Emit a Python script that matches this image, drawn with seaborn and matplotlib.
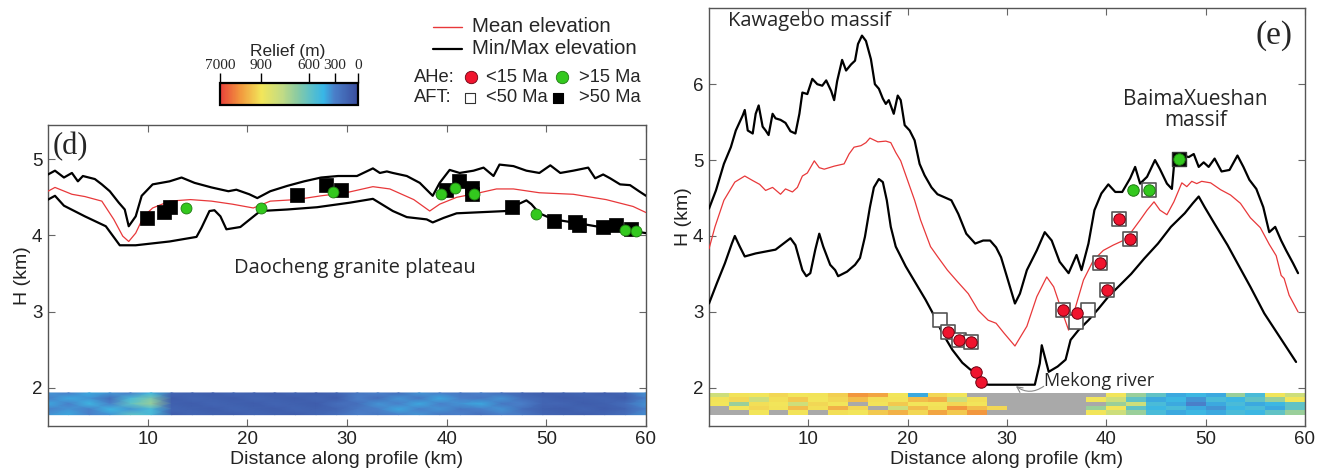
import numpy as np
import matplotlib
matplotlib.use("Agg")
import matplotlib.pyplot as plt
import matplotlib.colors as mcolors
import matplotlib.cm as mcm
import seaborn as sns

# ---------------- data : panel (d) ----------------
d_max_x = [0.0, 0.7, 1.6, 2.4, 3.0, 3.5, 4.7, 5.4, 6.2, 7.1, 7.7, 8.1, 8.8, 9.4, 10.5, 12.2, 13.4, 14.7, 16.4, 18.1,
           18.9, 20.2, 21.0, 22.3, 24.0, 25.7, 27.4, 29.1, 31.0, 32.6, 33.3, 34.0, 34.6, 36.0, 37.3, 38.6, 39.3, 40.3, 41.3, 42.7,
           43.7, 44.7, 45.3, 46.7, 48.0, 49.3, 50.4, 51.4, 52.7, 54.2, 54.9, 55.7, 56.4, 57.4, 58.4, 59.3, 60.0]
d_max_h = [4.80, 4.85, 4.76, 4.82, 4.71, 4.78, 4.74, 4.67, 4.58, 4.43, 4.34, 4.12, 4.25, 4.52, 4.67, 4.71, 4.76, 4.69, 4.63, 4.58,
           4.60, 4.54, 4.49, 4.58, 4.65, 4.71, 4.76, 4.78, 4.78, 4.88, 4.82, 4.84, 4.82, 4.78, 4.69, 4.52, 4.69, 4.86, 4.82, 4.85,
           4.89, 4.78, 4.93, 4.91, 4.85, 4.82, 4.92, 4.82, 4.85, 4.89, 4.75, 4.80, 4.75, 4.67, 4.66, 4.58, 4.52]
d_mean_x = [0.0, 0.7, 2.4, 3.7, 5.4, 6.6, 7.5, 8.1, 8.8, 9.6, 10.5, 12.2, 14.3, 16.4, 18.5, 20.6, 22.3, 24.9, 27.4, 29.9,
            32.6, 34.3, 36.7, 38.3, 39.3, 41.0, 43.3, 45.0, 46.7, 49.3, 52.7, 56.0, 58.7, 60.0]
d_mean_h = [4.58, 4.63, 4.54, 4.51, 4.45, 4.21, 3.99, 3.92, 4.03, 4.25, 4.36, 4.45, 4.47, 4.45, 4.41, 4.36, 4.45, 4.47, 4.52, 4.56,
            4.64, 4.61, 4.47, 4.32, 4.41, 4.50, 4.56, 4.61, 4.61, 4.56, 4.54, 4.47, 4.38, 4.30]
d_min_x = [0.0, 0.7, 1.6, 3.7, 5.8, 7.2, 8.8, 12.2, 14.9, 15.4, 16.2, 16.7, 17.3, 17.9, 19.3, 21.3, 24.0, 27.0, 30.3, 32.6,
           34.6, 36.0, 38.0, 38.6, 39.7, 41.0, 46.0, 46.7, 48.0, 48.5, 49.3, 50.7, 52.7, 55.4, 58.0, 60.0]
d_min_h = [4.47, 4.52, 4.39, 4.25, 4.12, 3.87, 3.87, 3.92, 3.98, 4.10, 4.32, 4.33, 4.25, 4.08, 4.11, 4.32, 4.34, 4.37, 4.43, 4.48,
           4.32, 4.24, 4.21, 4.17, 4.23, 4.29, 4.32, 4.38, 4.46, 4.41, 4.29, 4.21, 4.17, 4.11, 4.07, 4.03]
d_aft_old_x = [9.9, 11.6, 12.2, 25.0, 27.9, 29.4, 39.9, 41.2, 42.5, 42.5, 46.6, 50.8, 52.9, 53.3, 55.7, 57.0, 58.5]
d_aft_old_h = [4.23, 4.31, 4.37, 4.53, 4.66, 4.60, 4.59, 4.71, 4.62, 4.54, 4.37, 4.19, 4.17, 4.13, 4.11, 4.13, 4.08]
d_ahe_old_x = [13.8, 21.4, 28.6, 39.4, 40.8, 42.7, 49.0, 57.9, 59.0]
d_ahe_old_h = [4.36, 4.36, 4.57, 4.55, 4.62, 4.55, 4.28, 4.07, 4.06]
# relief band (m), rows top -> bottom, 2-km columns
d_relief = [
    [350, 300, 400, 350, 300, 450, 150, 120, 100, 150, 120, 100, 150, 100, 150, 250, 300, 200, 350, 300, 250, 300, 200, 150, 100, 120, 150, 100, 150, 350],
    [300, 400, 350, 200, 500, 650, 100, 150, 120, 100, 150, 120, 100, 150, 100, 300, 200, 350, 250, 400, 300, 250, 350, 200, 150, 100, 120, 150, 100, 300],
    [400, 300, 450, 300, 600, 700, 120, 100, 150, 120, 100, 150, 120, 100, 200, 200, 350, 300, 400, 300, 350, 400, 250, 300, 150, 150, 100, 120, 200, 350],
    [300, 350, 300, 450, 350, 500, 150, 120, 100, 150, 120, 100, 150, 120, 150, 250, 300, 400, 300, 350, 250, 300, 350, 200, 120, 100, 150, 100, 150, 300],
    [350, 400, 300, 350, 600, 500, 100, 150, 120, 100, 150, 120, 100, 150, 200, 300, 250, 300, 350, 250, 300, 200, 300, 250, 150, 120, 100, 150, 200, 350],
]

# ---------------- data : panel (e) ----------------
e_max_x = [0.0, 0.7, 1.5, 2.2, 2.7, 3.4, 3.6, 3.9, 4.4, 4.7, 5.0, 5.4, 5.7, 6.0, 6.4, 6.7, 7.2, 7.7, 8.2, 8.7,
           9.1, 9.4, 9.9, 10.4, 10.9, 11.4, 11.8, 12.3, 12.6, 12.9, 13.4, 13.8, 14.3, 14.7, 15.0, 15.4, 15.8, 16.3, 16.7, 17.1,
           17.5, 17.8, 18.1, 18.6, 19.0, 19.3, 19.7, 20.2, 20.7, 21.2, 21.7, 22.4, 23.0, 23.7, 24.4, 25.1, 25.9, 26.8, 27.6, 28.3,
           28.9, 29.4, 30.0, 30.8, 31.3, 32.0, 33.0, 33.8, 34.5, 35.3, 36.2, 37.0, 37.5, 38.2, 38.8, 39.5, 40.2, 40.9, 41.6, 42.4,
           42.9, 43.4, 44.1, 44.9, 45.4, 46.1, 46.6, 46.9, 47.6, 48.3, 48.8, 49.3, 49.8, 50.3, 50.9, 51.6, 52.4, 53.2, 53.8, 54.4,
           55.1, 55.8, 56.4, 57.0, 57.6, 58.1, 58.8, 59.3]
e_max_h = [4.36, 4.60, 4.95, 5.17, 5.39, 5.59, 5.66, 5.39, 5.35, 5.61, 5.72, 5.44, 5.39, 5.33, 5.61, 5.55, 5.53, 5.49, 5.38, 5.35,
           5.61, 5.89, 5.87, 6.07, 6.00, 5.98, 6.05, 5.91, 5.79, 6.04, 6.32, 6.18, 6.26, 6.31, 6.53, 6.64, 6.57, 6.33, 6.00, 5.94,
           5.81, 5.74, 5.79, 5.61, 5.85, 5.79, 5.46, 5.39, 5.26, 4.95, 4.80, 4.64, 4.55, 4.51, 4.47, 4.29, 4.03, 3.90, 3.94, 3.94,
           3.85, 3.72, 3.46, 3.11, 3.24, 3.55, 3.81, 4.05, 3.94, 3.66, 3.51, 3.75, 3.55, 3.90, 4.34, 4.56, 4.68, 4.58, 4.58, 4.76,
           4.91, 4.69, 4.78, 5.00, 4.88, 4.69, 4.62, 5.06, 5.06, 5.04, 5.08, 4.91, 4.97, 4.91, 5.02, 4.85, 4.87, 5.06, 4.91, 4.74,
           4.62, 4.38, 4.05, 4.12, 3.94, 3.81, 3.64, 3.51]
e_mean_x = [0.0, 0.6, 1.5, 2.6, 3.6, 4.4, 5.1, 5.7, 6.4, 7.2, 7.7, 8.4, 8.9, 9.4, 9.9, 10.6, 11.1, 11.6, 12.6, 13.6,
            14.1, 14.6, 15.3, 15.8, 16.2, 17.0, 17.8, 18.3, 18.8, 19.3, 20.0, 20.7, 21.3, 22.3, 23.0, 24.0, 25.0, 26.1, 27.1, 28.1,
            28.9, 29.7, 30.8, 32.0, 33.0, 34.0, 34.7, 35.5, 36.2, 36.8, 37.7, 38.7, 39.7, 40.7, 41.7, 42.5, 43.4, 44.1, 44.8, 45.4,
            46.1, 46.8, 47.6, 48.1, 48.6, 49.1, 49.6, 50.5, 51.5, 52.5, 53.5, 54.5, 55.5, 56.4, 57.1, 57.6, 57.9, 58.4, 59.3]
e_mean_h = [3.83, 4.12, 4.47, 4.71, 4.79, 4.73, 4.68, 4.60, 4.64, 4.55, 4.62, 4.58, 4.64, 4.79, 4.83, 4.99, 4.90, 4.88, 4.92, 4.95,
            5.08, 5.17, 5.19, 5.23, 5.29, 5.24, 5.25, 5.23, 5.10, 4.99, 4.73, 4.47, 4.21, 3.86, 3.73, 3.55, 3.40, 3.24, 3.02, 2.89,
            2.85, 2.72, 2.55, 2.81, 3.20, 3.46, 3.33, 3.02, 2.76, 3.02, 3.42, 3.68, 3.81, 3.88, 3.94, 4.05, 4.21, 4.34, 4.45, 4.34,
            4.28, 4.45, 4.70, 4.65, 4.72, 4.69, 4.72, 4.70, 4.61, 4.54, 4.43, 4.24, 4.11, 3.89, 3.74, 3.48, 3.44, 3.22, 3.00]
e_min_x = [0.0, 0.8, 1.6, 2.3, 2.6, 3.1, 3.6, 4.7, 6.7, 8.2, 8.7, 9.4, 9.8, 10.2, 10.7, 11.1, 11.5, 12.2, 12.7, 13.0,
           13.9, 14.7, 15.2, 15.7, 16.2, 16.6, 17.1, 17.5, 17.9, 18.3, 18.8, 19.8, 20.8, 21.8, 22.5, 23.5, 24.5, 25.5, 26.3, 26.8,
           27.3, 28.2, 32.8, 33.3, 33.5, 33.8, 34.2, 35.1, 35.9, 36.4, 37.2, 38.2, 39.2, 40.2, 41.2, 42.5, 43.8, 45.2, 46.5, 47.9,
           48.7, 49.3, 49.9, 50.9, 52.2, 53.2, 54.5, 55.9, 57.2, 58.2, 59.1]
e_min_h = [3.11, 3.38, 3.64, 3.90, 4.00, 3.86, 3.73, 3.77, 3.82, 3.97, 3.88, 3.55, 3.47, 3.51, 3.82, 4.03, 3.86, 3.62, 3.55, 3.47,
           3.53, 3.62, 3.71, 3.99, 4.38, 4.64, 4.75, 4.71, 4.47, 4.12, 3.86, 3.60, 3.38, 3.16, 2.99, 2.72, 2.50, 2.33, 2.24, 2.22,
           2.05, 2.04, 2.04, 2.32, 2.56, 2.41, 2.21, 2.28, 2.37, 2.63, 2.76, 2.89, 3.04, 3.20, 3.33, 3.50, 3.70, 3.90, 4.12, 4.30,
           4.43, 4.52, 4.38, 4.16, 3.88, 3.64, 3.33, 2.98, 2.72, 2.52, 2.34]
e_aft_young_x = [23.3, 24.1, 25.2, 26.4, 35.6, 36.9, 38.2, 39.4, 40.1, 41.3, 42.4, 44.3]
e_aft_young_h = [2.89, 2.73, 2.63, 2.60, 3.02, 2.87, 3.02, 3.65, 3.29, 4.23, 3.96, 4.61]
e_aft_old_x = [47.3]
e_aft_old_h = [5.01]
e_ahe_young_x = [24.1, 25.2, 26.4, 26.9, 27.4, 35.6, 37.0, 39.4, 40.1, 41.3, 42.4]
e_ahe_young_h = [2.73, 2.63, 2.60, 2.21, 2.07, 3.02, 2.99, 3.65, 3.29, 4.23, 3.96]
e_ahe_old_x = [42.7, 44.3, 47.3]
e_ahe_old_h = [4.61, 4.61, 5.01]
nan = np.nan
e_relief = [
    [800, 1000, 900, 1500, 900, 1000, 1800, 4000, 3500, 900, 400, 1500, 900, nan, nan, nan, nan, nan, nan, nan, 900, 700, 600, 400, 450, 400, 700, 500, 900, 800],
    [1000, 1500, 800, 1200, 2000, 900, 1500, 2500, 1200, 1000, 2500, 3000, 800, 1200, nan, nan, nan, nan, nan, 900, 800, 600, 400, 450, 350, 500, 450, 600, 700, 900],
    [900, 700, 1200, 900, 800, 1500, 900, nan, 1000, 2000, 900, 1000, 1500, 900, nan, nan, nan, nan, nan, nan, 700, 800, 500, 400, 300, 400, 500, 400, 450, 600],
    [nan, 900, 1500, 1000, 2500, 1200, 3000, 1500, nan, 800, 2500, 1200, 4000, 2500, 1500, nan, nan, nan, nan, 700, 900, 600, 450, 500, 400, 350, 450, 500, 400, 600],
    [nan, nan, 900, nan, 1000, nan, 1200, 900, 2000, 3000, 1500, 3500, 2000, 4000, nan, nan, nan, nan, nan, 900, 800, 700, 500, 400, 450, 400, 500, 450, 600, 700],
]

# ---------------- colour scale ----------------
relief_ticks = [0, 300, 600, 900, 7000]
relief_ticklabels = ["0", "300", "600", "900", "7000"]
relief_stops_t = [0.0, 0.17, 0.355, 0.70, 1.0]
cmap_colors = [(0.0, "#3a4d9e"), (0.17, "#4a7fc9"), (0.25, "#38b6e6"), (0.355, "#62c2c4"),
               (0.45, "#8fcc9f"), (0.55, "#c2db85"), (0.70, "#f2e65a"), (0.85, "#f29a3e"), (1.0, "#e8403a")]

RED = "#e8383a"
MARKER_RED = "#f0142e"
GREEN = "#33c81e"

sns.set_style("ticks")
plt.rcParams["font.family"] = ["Liberation Sans", "DejaVu Sans"]
plt.rcParams["axes.linewidth"] = 1.0

cmap = mcolors.LinearSegmentedColormap.from_list("relief", cmap_colors)
cmap.set_bad("#a9a9a9")
fwd = lambda m: np.interp(m, relief_ticks, relief_stops_t)
inv = lambda t: np.interp(t, relief_stops_t, relief_ticks)
norm = mcolors.FuncNorm((fwd, inv), vmin=0, vmax=7000)

W, H = 1328, 470
fig = plt.figure(figsize=(W / 100, H / 100), dpi=100)
ax_d = fig.add_axes([48 / W, 1 - 425.7 / H, 598 / W, 300.7 / H])
ax_e = fig.add_axes([709 / W, 1 - 425.7 / H, 596 / W, 417.4 / H])


def draw_band(ax, rel, shading):
    arr = np.array(rel, dtype=float)
    nr, nc = arr.shape
    if shading == "gouraud":
        xs = np.linspace(0, 60, nc)
        ys = np.linspace(1.93, 1.645, nr)
    else:
        xs = np.linspace(0, 60, nc + 1)
        ys = np.linspace(1.93, 1.645, nr + 1)
    ax.pcolormesh(xs, ys, np.ma.masked_invalid(arr), cmap=cmap, norm=norm, shading=shading, zorder=1)


def draw_profiles(ax, mx, mh, ax_x, ax_h, nx, nh):
    sns.lineplot(x=nx, y=nh, ax=ax, color="black", linewidth=1.6, estimator=None, sort=False, zorder=3)
    sns.lineplot(x=mx, y=mh, ax=ax, color="black", linewidth=1.6, estimator=None, sort=False, zorder=3)
    sns.lineplot(x=ax_x, y=ax_h, ax=ax, color=RED, linewidth=0.9, estimator=None, sort=False, zorder=3)


# ---- panel (d)
draw_band(ax_d, d_relief, "gouraud")
draw_profiles(ax_d, d_max_x, d_max_h, d_mean_x, d_mean_h, d_min_x, d_min_h)
sns.scatterplot(x=d_aft_old_x, y=d_aft_old_h, ax=ax_d, marker="s", s=100, color="black", edgecolor="black",
                linewidth=0.5, zorder=4)
sns.scatterplot(x=d_ahe_old_x, y=d_ahe_old_h, ax=ax_d, marker="o", s=62, color=GREEN, edgecolor="#1f7a12",
                linewidth=0.6, zorder=5)
ax_d.set_ylim(1.5, 5.45)
ax_d.set_yticks([2, 3, 4, 5])
ax_d.text(0.45, 5.17, "(d)", family="Liberation Serif", fontsize=22, va="center", ha="left")
ax_d.text(30.8, 3.57, "Daocheng granite plateau", family="Open Sans", fontsize=14.5, ha="center", va="center")

# ---- panel (e)
draw_band(ax_e, e_relief, "flat")
draw_profiles(ax_e, e_max_x, e_max_h, e_mean_x, e_mean_h, e_min_x, e_min_h)
sns.scatterplot(x=e_aft_young_x, y=e_aft_young_h, ax=ax_e, marker="s", s=100, color="white", edgecolor="#555555",
                linewidth=1.2, zorder=4)
sns.scatterplot(x=e_aft_old_x, y=e_aft_old_h, ax=ax_e, marker="s", s=100, color="black", edgecolor="#333333",
                linewidth=1.0, zorder=4)
sns.scatterplot(x=e_ahe_young_x, y=e_ahe_young_h, ax=ax_e, marker="o", s=68, color=MARKER_RED, edgecolor="#6b0010",
                linewidth=0.7, zorder=5)
sns.scatterplot(x=e_ahe_old_x, y=e_ahe_old_h, ax=ax_e, marker="o", s=68, color=GREEN, edgecolor="#1f7a12",
                linewidth=0.7, zorder=5)
ax_e.set_ylim(1.5, 7.0)
ax_e.set_yticks([2, 3, 4, 5, 6])
ax_e.text(56.9, 6.64, "(e)", family="Liberation Serif", fontsize=24, va="center", ha="center")
ax_e.text(1.9, 6.83, "Kawagebo massif", family="Open Sans", fontsize=14.5, ha="left", va="center")
ax_e.text(49.0, 5.66, "BaimaXueshan\nmassif", family="Open Sans", fontsize=15, ha="center", va="center",
          linespacing=0.95)
ax_e.text(33.7, 2.09, "Mekong river", family="Open Sans", fontsize=13, ha="left", va="center", zorder=6)
ax_e.annotate("", xy=(30.9, 2.02), xytext=(33.7, 2.02),
              arrowprops=dict(arrowstyle="->", color="#888888", lw=0.8, connectionstyle="arc3,rad=-0.35",
                              shrinkA=0, shrinkB=0), zorder=6)

for ax in (ax_d, ax_e):
    ax.set_xlim(0, 60)
    ax.set_xticks([10, 20, 30, 40, 50, 60])
    ax.tick_params(direction="in", length=5, width=0.8, top=True, right=True, color="#666666",
                   labelsize=13.5, pad=4, labelcolor="#222222")
    for s in ax.spines.values():
        s.set_color("#555555")
        s.set_linewidth(1.0)
        s.set_visible(True)
    ax.set_xlabel("Distance along profile (km)", fontsize=14, labelpad=2, color="#222222")
    ax.set_ylabel("H (km)", fontsize=14, labelpad=1, color="#222222")

# ---- colour bar
cax = fig.add_axes([220 / W, 1 - 105 / H, 138 / W, 22 / H])
sm = mcm.ScalarMappable(norm=norm, cmap=cmap)
cb = fig.colorbar(sm, cax=cax, orientation="horizontal")
cb.set_ticks(relief_ticks)
cb.set_ticklabels(relief_ticklabels)
cb.minorticks_off()
cax.invert_xaxis()
cax.xaxis.set_ticks_position("top")
cax.tick_params(axis="x", direction="out", length=7, width=1, pad=1, labelsize=11, color="black")
for lab in cax.get_xticklabels():
    lab.set_fontfamily("Liberation Serif")
cb.outline.set_linewidth(1.6)
cb.outline.set_edgecolor("black")
fig.text(288 / W, 1 - 52 / H, "Relief (m)", fontsize=12.5, ha="center", va="center")

# ---- legend (drawn in pixel coordinates on an overlay axes)
lax = fig.add_axes([0, 0, 1, 1], facecolor="none")
lax.set_xlim(0, W)
lax.set_ylim(H, 0)
lax.axis("off")
FS1 = 14.8
FS2 = 13.2
lax.plot([433, 462], [27, 27], color=RED, lw=1.0)
lax.text(472, 27, "Mean elevation", fontsize=FS1, va="center", ha="left")
lax.plot([433, 462], [49, 49], color="black", lw=1.6)
lax.text(472, 49, "Min/Max elevation", fontsize=FS1, va="center", ha="left")
lax.text(414, 77, "AHe:", fontsize=FS2, va="center", ha="left")
lax.scatter([471], [77], s=80, marker="o", color=MARKER_RED, edgecolor="#6b0010", linewidth=0.6)
lax.text(486, 77, "<15 Ma", fontsize=FS2, va="center", ha="left")
lax.scatter([562], [77], s=80, marker="o", color=GREEN, edgecolor="#1f7a12", linewidth=0.6)
lax.text(579, 77, ">15 Ma", fontsize=FS2, va="center", ha="left")
lax.text(414, 98, "AFT:", fontsize=FS2, va="center", ha="left")
lax.scatter([470], [98], s=60, marker="s", color="white", edgecolor="#333333", linewidth=0.8)
lax.text(486, 98, "<50 Ma", fontsize=FS2, va="center", ha="left")
lax.scatter([558], [98], s=60, marker="s", color="black", edgecolor="black", linewidth=0.8)
lax.text(579, 98, ">50 Ma", fontsize=FS2, va="center", ha="left")

fig.savefig("out.png", dpi=100)
